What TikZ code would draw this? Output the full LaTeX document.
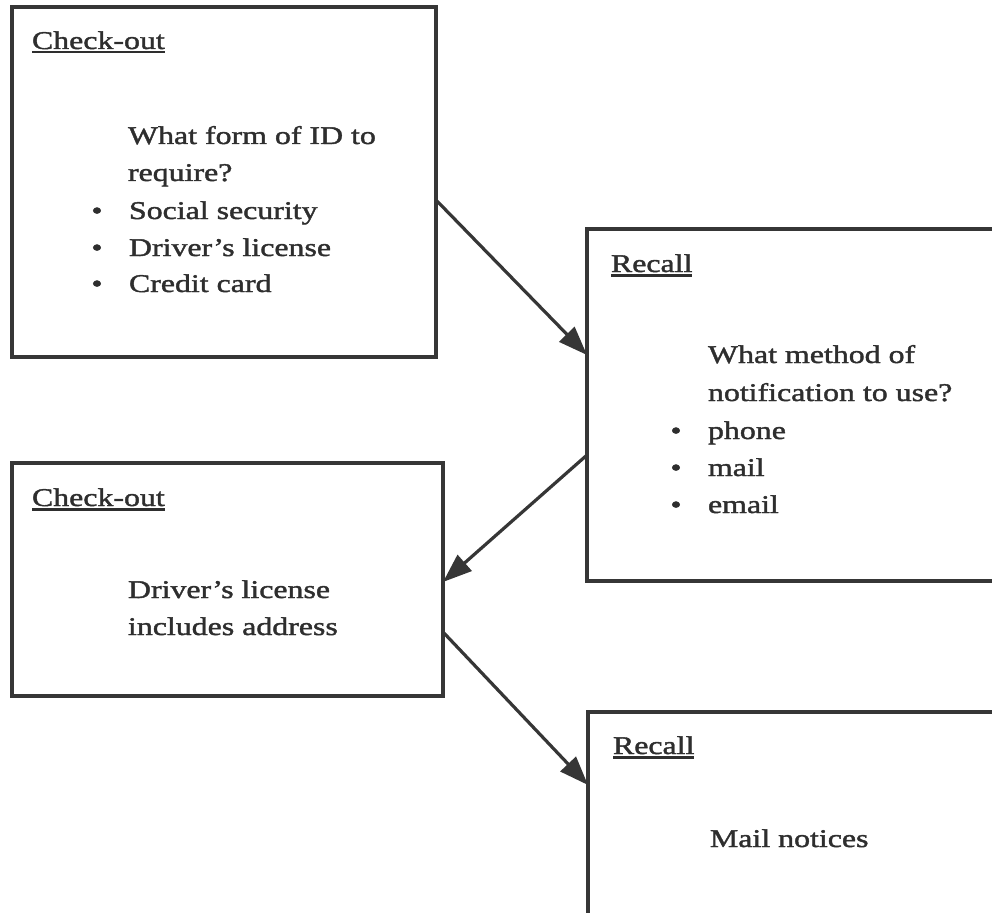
\documentclass[tikz,border=0pt]{standalone}
\usepackage{fontspec}
\setmainfont[FakeStretch=1.25,FakeBold=1.6]{Liberation Serif}
\usetikzlibrary{arrows.meta}
\definecolor{ink}{HTML}{2E2E2E}
\definecolor{frame}{HTML}{363636}
% heading word with a solid rule just under its baseline
\newcommand\uword[1]{\setbox0\hbox{#1}\rlap{\rule[-4.5pt]{\wd0}{2.6pt}}\box0}
\begin{document}
\begin{tikzpicture}[x=1pt,y=-1pt,
  panel/.style={draw=frame, line width=3.4pt, rectangle, inner sep=0pt, outer sep=0pt, anchor=north west},
  txt/.style={anchor=base west, inner sep=0pt, outer sep=0pt, text=ink, font=\fontsize{25.5}{37}\selectfont},
  bul/.style={anchor=base, inner sep=0pt, outer sep=0pt, text=ink, font=\fontsize{25.5}{37}\selectfont},
  flow/.style={draw=frame, line width=3.2pt, -{Triangle[length=29pt,width=21pt]}}]
\useasboundingbox (0,0) rectangle (992,912);
\clip (0,0) rectangle (992,912);

% panels
\node[panel, minimum width=424pt, minimum height=350pt] (p1) at (12,7) {};
\node[panel, minimum width=440pt, minimum height=352pt] (p2) at (587,229) {};
\node[panel, minimum width=431pt, minimum height=233pt] (p3) at (12,463) {};
\node[panel, minimum width=440pt, minimum height=240pt] (p4) at (588,712) {};

% first check-out panel
\node[txt] (h1) at (32,49) {\uword{Check-out}};
\node[txt] (q1a) at (128,144) {What form of ID to};
\node[txt] (q1b) at (128,181) {require?};
\node[bul] (d1a) at (97,219) {•};
\node[txt] (o1a) at (129,219) {Social security};
\node[bul] (d1b) at (97,256) {•};
\node[txt] (o1b) at (129,256) {Driver’s license};
\node[bul] (d1c) at (97,292) {•};
\node[txt] (o1c) at (129,292) {Credit card};

% first recall panel
\node[txt] (h2) at (611,272) {\uword{Recall}};
\node[txt] (q2a) at (708,363) {What method of};
\node[txt] (q2b) at (708,401) {notification to use?};
\node[bul] (d2a) at (676,439) {•};
\node[txt] (o2a) at (708,439) {phone};
\node[bul] (d2b) at (676,476) {•};
\node[txt] (o2b) at (708,476) {mail};
\node[bul] (d2c) at (676,513) {•};
\node[txt] (o2c) at (708,513) {email};

% second check-out panel
\node[txt] (h3) at (32,506) {\uword{Check-out}};
\node[txt] (q3a) at (128,598) {Driver’s license};
\node[txt] (q3b) at (128,635) {includes address};

% second recall panel
\node[txt] (h4) at (613,754) {\uword{Recall}};
\node[txt] (q4a) at (710,847) {Mail notices};

% connectors
\draw[flow] (p1.east |- 0,200) -- (p2.west |- 0,355);
\draw[flow] (p2.west |- 0,455) -- (p3.east |- 0,582);
\draw[flow] (p3.east |- 0,632) -- (p4.west |- 0,785);
\end{tikzpicture}
\end{document}
